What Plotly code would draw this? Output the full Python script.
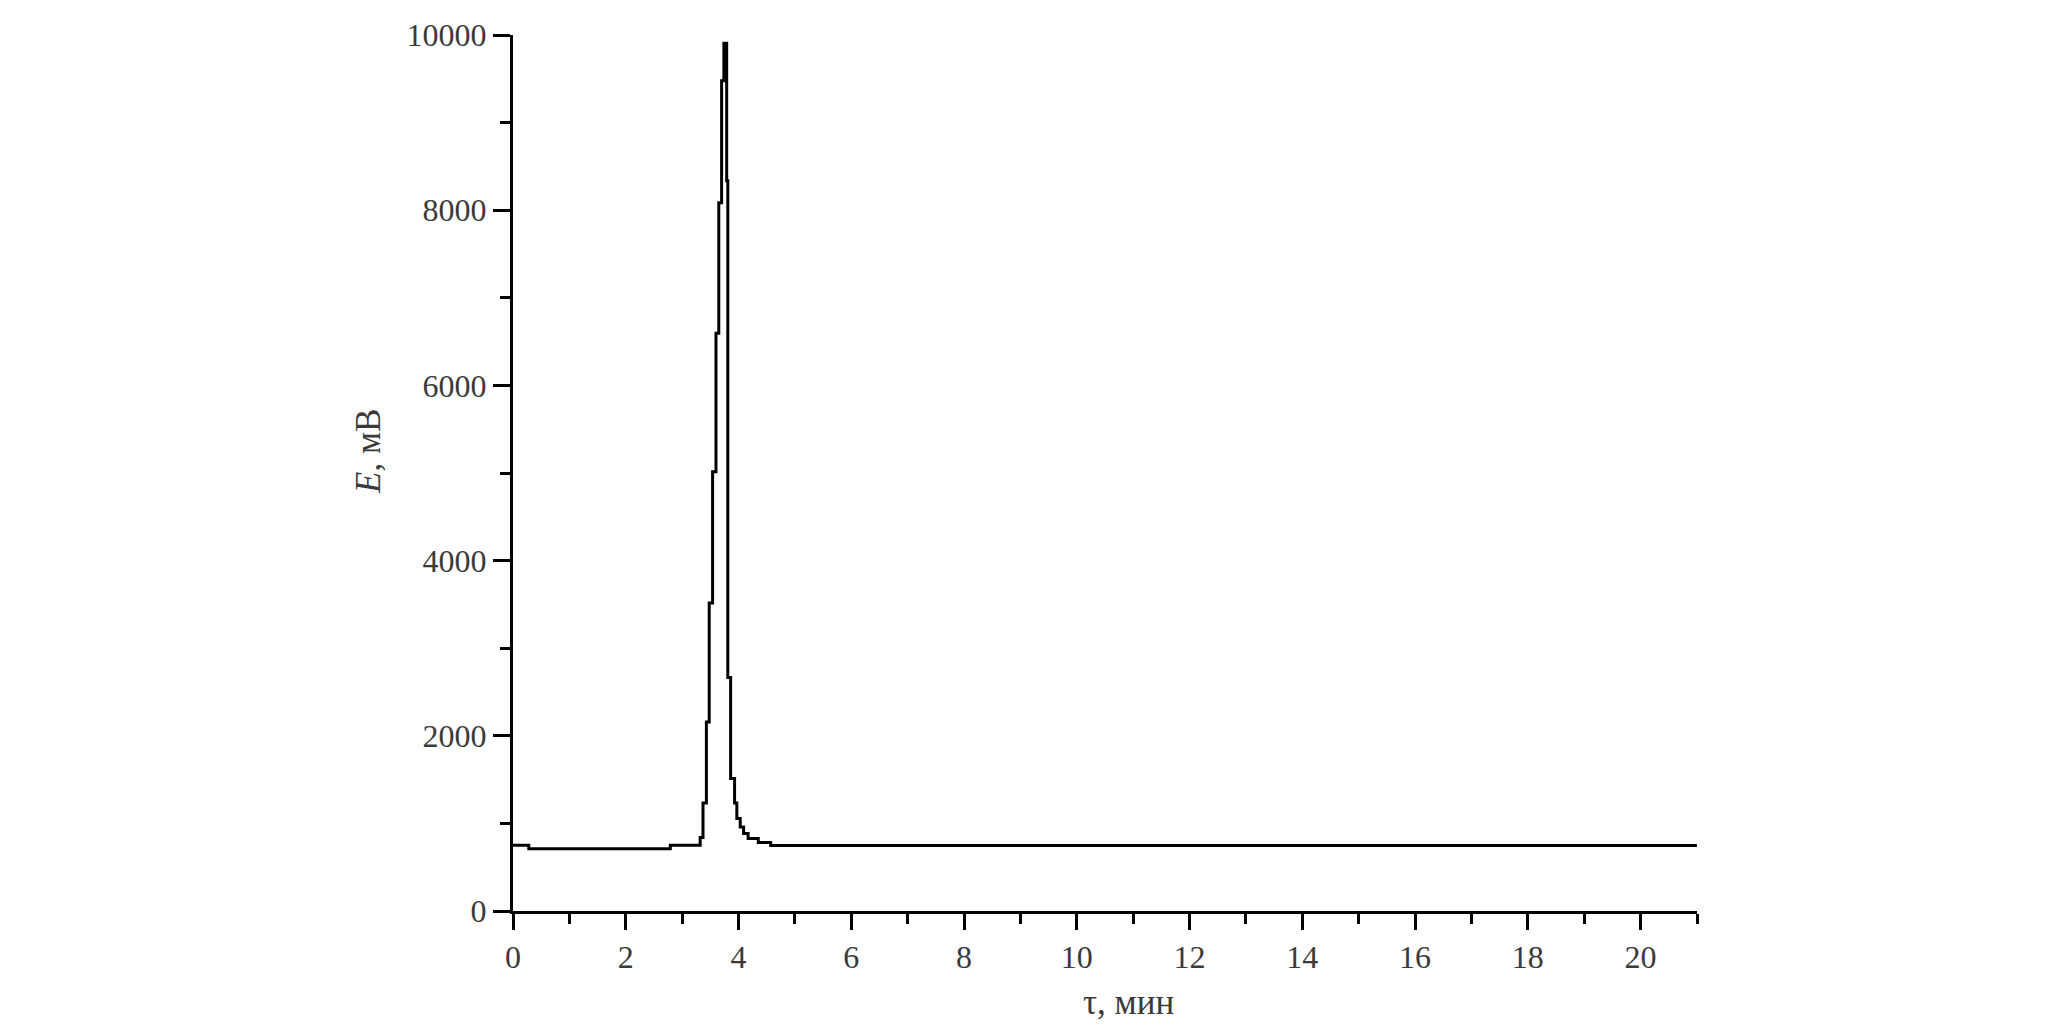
import plotly.graph_objects as go

# Step chromatogram: segment start times (min) and signal values (mV)
tau_start = [0, 0.28, 2.79, 3.32, 3.37, 3.43, 3.48, 3.54, 3.60, 3.65, 3.70, 3.74,
             3.79, 3.81, 3.86, 3.93, 3.97, 4.03, 4.09, 4.17, 4.35, 4.57, 21.0]
E_mV = [750, 712, 750, 838, 1233, 2158, 3517, 5013, 6594, 8085, 9478, 9905,
        8336, 2665, 1512, 1233, 1055, 959, 884, 827, 781, 748, 748]

x_ticks = [0, 2, 4, 6, 8, 10, 12, 14, 16, 18, 20]
y_ticks = [0, 2000, 4000, 6000, 8000, 10000]

# page body adds an 8px margin; compensate
OFF = 8
W, H = 2067 - OFF, 1035 - OFF
x0, x1, yt, yb = 513 - OFF, 1697 - OFF, 35 - OFF, 911 - OFF
L, R, T, B = x0, W - x1, yt, H - yb

fig = go.Figure()
fig.add_trace(go.Scatter(x=tau_start, y=E_mV, mode="lines",
                         line=dict(shape="hv", color="black", width=3),
                         showlegend=False, hoverinfo="skip"))

FAM = "Liberation Serif, Times New Roman, serif"
font = dict(family=FAM, size=32, color="#3a3a3a")
tfont = dict(family=FAM, size=35, color="#3a3a3a")

fig.update_layout(
    width=W, height=H,
    margin=dict(l=L, r=R, t=T, b=B, pad=0),
    paper_bgcolor="white", plot_bgcolor="white",
    font=font,
    xaxis=dict(range=[0, 21], tickvals=x_ticks, ticktext=[str(v) for v in x_ticks],
               automargin=False,
               showgrid=False, zeroline=False, showline=True, linecolor="black", linewidth=3,
               ticks="outside", ticklen=16, tickwidth=3, tickcolor="black",
               minor=dict(ticks="outside", ticklen=10, tickwidth=3, tickcolor="black", dtick=1, tick0=0, showgrid=False),
               tickfont=font, fixedrange=True),
    yaxis=dict(range=[0, 10000], tickvals=y_ticks, ticktext=[str(v) for v in y_ticks],
               automargin=False,
               showgrid=False, zeroline=False, showline=True, linecolor="black", linewidth=3,
               ticks="outside", ticklen=17, tickwidth=3, tickcolor="black",
               minor=dict(ticks="outside", ticklen=10, tickwidth=3, tickcolor="black", dtick=1000, tick0=0, showgrid=False),
               tickfont=font, fixedrange=True),
)

pw, ph = x1 - x0, yb - yt
fig.add_annotation(text="<i>E</i>, мВ", xref="paper", yref="paper",
                   x=(368 - 513) / pw, y=(911 - 452) / ph,
                   textangle=-90, showarrow=False, xanchor="center", yanchor="middle",
                   font=tfont)
fig.add_annotation(text="τ, мин", xref="paper", yref="paper",
                   x=(1128 - 513) / pw, y=(911 - 1002) / ph,
                   showarrow=False, xanchor="center", yanchor="middle",
                   font=tfont)

fig.write_html("out.html")
